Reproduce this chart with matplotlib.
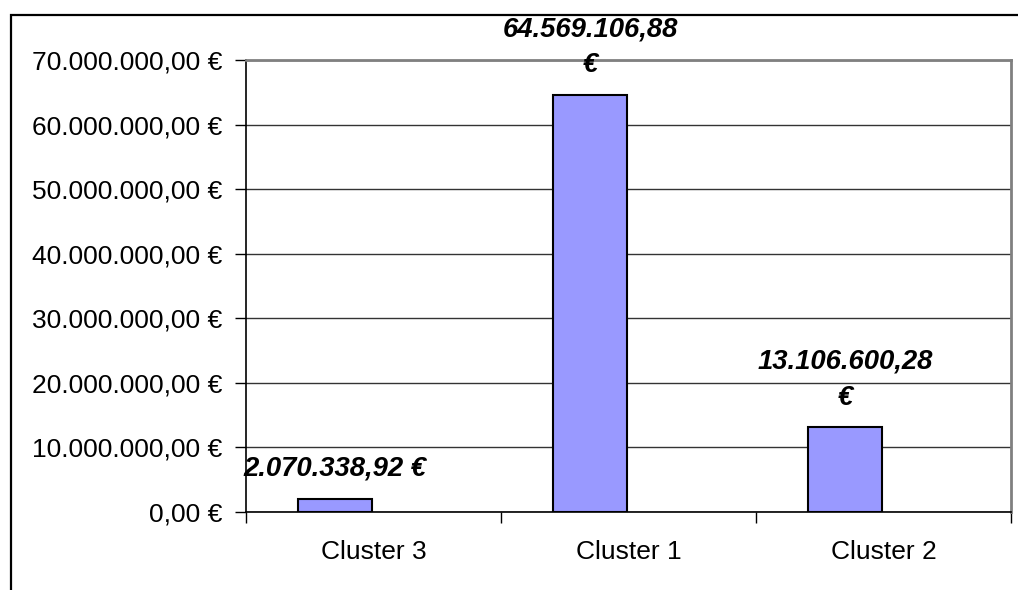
import matplotlib.pyplot as plt
from matplotlib.patches import Rectangle
import numpy as np

plt.rcParams['font.family'] = ['Liberation Sans', 'DejaVu Sans']

# data
clusters = ['Cluster 3', 'Cluster 1', 'Cluster 2']
amounts = [2070338.92, 64569106.88, 13106600.28]
label_wrap = [False, True, True]
y_ticks = [0, 10e6, 20e6, 30e6, 40e6, 50e6, 60e6, 70e6]


def euro(v):
    s = '{:,.2f}'.format(v)
    s = s.replace(',', 'X').replace('.', ',').replace('X', '.')
    return s + ' €'


fig = plt.figure(figsize=(10.18, 5.90), dpi=100)
ax = fig.add_axes([246 / 1018, 1 - 512 / 590, (1011 - 246) / 1018, (512 - 60) / 590])

# outer frame (cut off at right / bottom like the original)
fig.patches.append(Rectangle((11 / 1018, -0.2), 1.2, 1.2 - 15 / 590,
                             transform=fig.transFigure, fill=False,
                             edgecolor='black', linewidth=1.6))

x = np.arange(len(clusters))
bars = ax.bar(x + 0.205, amounts, width=0.29, align='edge',
              color='#9999FF', edgecolor='black', linewidth=1.5, zorder=3)

for b, v, w in zip(bars, amounts, label_wrap):
    txt = euro(v)
    if w:
        txt = txt.replace(' €', '\n€')
    ax.annotate(txt, (b.get_x() + b.get_width() / 2, v),
                xytext=(0, 12), textcoords='offset points',
                ha='center', va='bottom', fontsize=19.8,
                fontweight='bold', fontstyle='italic',
                linespacing=1.5, annotation_clip=False)

ax.set_xlim(0, 3)
ax.set_ylim(0, 70e6)
ax.set_yticks(y_ticks)
ax.set_yticklabels([euro(t) for t in y_ticks])
ax.yaxis.grid(True, color='#333333', linewidth=1.0, zorder=0)

# category boundaries carry the tick marks, labels sit in the middle
ax.set_xticks([0, 1, 2, 3])
ax.set_xticklabels([])
ax.set_xticks(x + 0.5, minor=True)
ax.set_xticklabels(clusters, minor=True)
ax.tick_params(axis='x', which='major', length=8, width=1, direction='out')
ax.tick_params(axis='x', which='minor', length=0, pad=20, labelsize=19)
ax.tick_params(axis='y', length=8, width=1, direction='out', pad=9, labelsize=19)

ax.spines['left'].set_color('black')
ax.spines['bottom'].set_color('black')
ax.spines['left'].set_linewidth(1.2)
ax.spines['bottom'].set_linewidth(1.2)
ax.spines['top'].set_color('#808080')
ax.spines['right'].set_color('#808080')
ax.spines['top'].set_linewidth(2)
ax.spines['right'].set_linewidth(2)

fig.savefig('out.png', dpi=100)
